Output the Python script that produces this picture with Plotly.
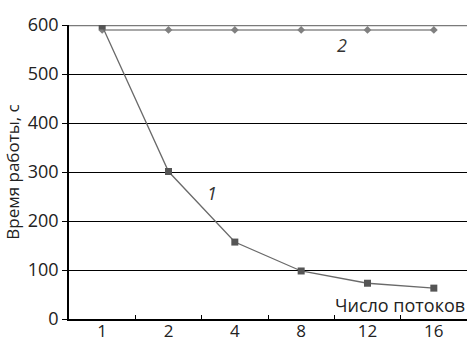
import plotly.graph_objects as go

categories = ["1", "2", "4", "8", "12", "16"]
series1 = [598, 301, 157, 98, 73, 63]
series2 = [590, 590, 590, 590, 590, 590]
y_ticks = [0, 100, 200, 300, 400, 500, 600]

FONT = "Open Sans, DejaVu Sans, sans-serif"

fig = go.Figure()
fig.add_trace(go.Scatter(
    x=categories, y=series2, mode="lines+markers",
    line=dict(color="#a8a8a8", width=2),
    marker=dict(symbol="diamond", size=6, color="#808080"),
    showlegend=False,
))
fig.add_trace(go.Scatter(
    x=categories, y=series1, mode="lines+markers",
    line=dict(color="#6a6a6a", width=1.3),
    marker=dict(symbol="square", size=7, color="#555555"),
    showlegend=False,
))

fig.add_shape(type="line", xref="paper", yref="y", x0=0, x1=1, y0=600, y1=600,
              line=dict(color="#7a7a7a", width=2.5), layer="below")

fig.add_annotation(x=1.65, y=258, xref="x", yref="y", text="<i>1</i>", showarrow=False,
                   font=dict(size=18, color="#333333", family=FONT))
fig.add_annotation(x=3.62, y=560, xref="x", yref="y", text="<i>2</i>", showarrow=False,
                   font=dict(size=18, color="#333333", family=FONT))
fig.add_annotation(x=1.0, y=0.0, xref="paper", yref="paper", xanchor="right", yanchor="bottom",
                   yshift=0, text="Число потоков", showarrow=False,
                   font=dict(size=18, color="#222222", family=FONT))

fig.update_layout(
    width=470, height=341,
    margin=dict(l=69, r=3, t=25, b=22),
    paper_bgcolor="white", plot_bgcolor="white",
    font=dict(family=FONT, size=18, color="#222222"),
)
fig.update_xaxes(
    type="category", range=[-0.5, 5.5],
    showline=True, linecolor="black", linewidth=1.5,
    tickson="boundaries", ticks="inside", ticklen=4, tickcolor="black",
    showgrid=False, tickfont=dict(size=17), automargin=False,
    ticklabelstandoff=-4,
)
fig.update_yaxes(
    range=[0, 600], tickvals=y_ticks,
    showline=True, linecolor="black", linewidth=1.5,
    ticks="outside", ticklen=5, tickcolor="black",
    showgrid=True, gridcolor="black", gridwidth=1,
    zeroline=False, tickfont=dict(size=18), automargin=False,
    title=dict(text="Время работы, с", font=dict(size=17), standoff=4),
)

fig.write_html("out.html", config={"displayModeBar": False},
               post_script="document.body.style.margin='0';")
